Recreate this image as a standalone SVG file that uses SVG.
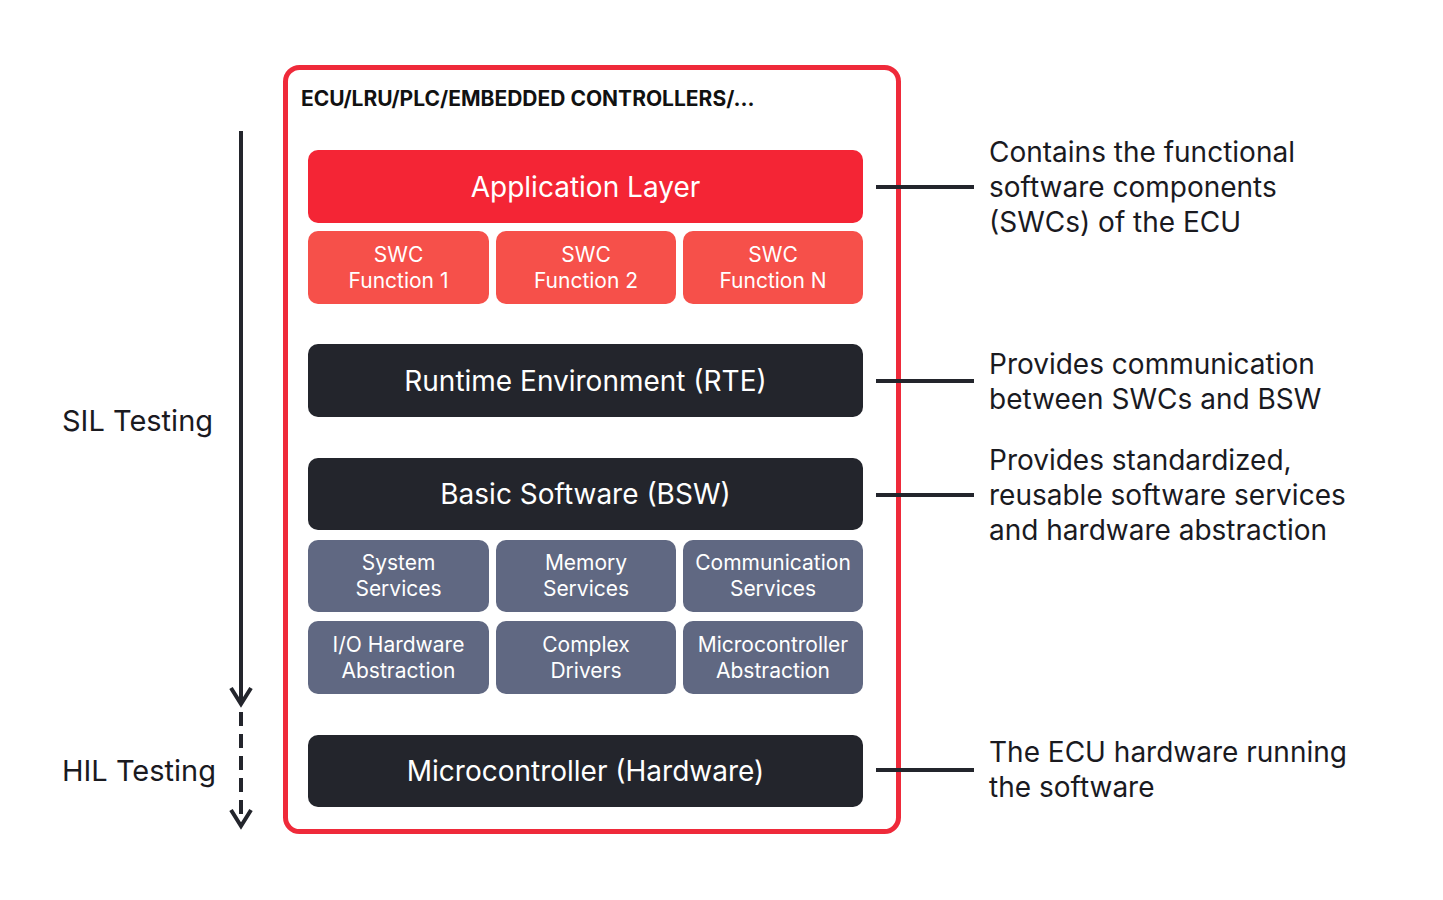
<svg xmlns="http://www.w3.org/2000/svg" width="1443" height="900" viewBox="0 0 1443 900">
<style>
text{font-family:Inter,"Noto Sans",sans-serif;}
.w{fill:#fff;text-anchor:middle;}
.big{font-size:28px;}
.sm{font-size:21px;}
.note{font-size:28px;fill:#1a1a1f;}
.side{font-size:29px;fill:#1a1a1f;}
.dark{fill:#23252c;}
.gray{fill:#606882;}
.swc{fill:#f6504a;}
.line{stroke:#23252c;stroke-width:4;fill:none;}
</style>
<rect width="1443" height="900" fill="#fff"/>
<rect x="285.5" y="67.5" width="613" height="764" rx="14" fill="#fff" stroke="#ef2a3a" stroke-width="5"/>
<text x="301" y="106" font-size="21" font-weight="bold" fill="#111">ECU/LRU/PLC/EMBEDDED CONTROLLERS/...</text>
<g id="app"><rect x="308" y="150" width="555" height="73" rx="10" fill="#f42535"/><text class="w big" x="585.5" y="197">Application Layer</text></g>
<g id="swc1"><rect class="swc" x="308" y="231" width="181" height="73" rx="10"/><text class="w sm" x="398.5" y="262">SWC</text><text class="w sm" x="398.5" y="288">Function 1</text></g>
<g id="swc2"><rect class="swc" x="496" y="231" width="180" height="73" rx="10"/><text class="w sm" x="586" y="262">SWC</text><text class="w sm" x="586" y="288">Function 2</text></g>
<g id="swcn"><rect class="swc" x="683" y="231" width="180" height="73" rx="10"/><text class="w sm" x="773" y="262">SWC</text><text class="w sm" x="773" y="288">Function N</text></g>
<g id="rte"><rect class="dark" x="308" y="344" width="555" height="73" rx="10"/><text class="w big" x="585.5" y="391">Runtime Environment (RTE)</text></g>
<g id="bsw"><rect class="dark" x="308" y="458" width="555" height="72" rx="10"/><text class="w big" x="585.5" y="504">Basic Software (BSW)</text></g>
<g id="sys"><rect class="gray" x="308" y="540" width="181" height="72" rx="10"/><text class="w sm" x="398.5" y="570">System</text><text class="w sm" x="398.5" y="596">Services</text></g>
<g id="mem"><rect class="gray" x="496" y="540" width="180" height="72" rx="10"/><text class="w sm" x="586" y="570">Memory</text><text class="w sm" x="586" y="596">Services</text></g>
<g id="com"><rect class="gray" x="683" y="540" width="180" height="72" rx="10"/><text class="w sm" x="773" y="570">Communication</text><text class="w sm" x="773" y="596">Services</text></g>
<g id="io"><rect class="gray" x="308" y="621" width="181" height="73" rx="10"/><text class="w sm" x="398.5" y="652">I/O Hardware</text><text class="w sm" x="398.5" y="678">Abstraction</text></g>
<g id="cdd"><rect class="gray" x="496" y="621" width="180" height="73" rx="10"/><text class="w sm" x="586" y="652">Complex</text><text class="w sm" x="586" y="678">Drivers</text></g>
<g id="mcal"><rect class="gray" x="683" y="621" width="180" height="73" rx="10"/><text class="w sm" x="773" y="652">Microcontroller</text><text class="w sm" x="773" y="678">Abstraction</text></g>
<g id="hw"><rect class="dark" x="308" y="735" width="555" height="72" rx="10"/><text class="w big" x="585.5" y="781">Microcontroller (Hardware)</text></g>
<g id="connectors">
<line class="line" x1="876" y1="187" x2="974" y2="187"/>
<line class="line" x1="876" y1="381" x2="974" y2="381"/>
<line class="line" x1="876" y1="495" x2="974" y2="495"/>
<line class="line" x1="876" y1="770" x2="974" y2="770"/>
<line class="line" x1="241" y1="131" x2="241" y2="704"/>
<polyline class="line" points="231,688 241,704 251,688"/>
<line class="line" x1="241" y1="712" x2="241" y2="826" stroke-dasharray="14,8"/>
<polyline class="line" points="231,810 241,826 251,810"/>
</g>
<text class="side" x="62" y="431">SIL Testing</text>
<text class="side" x="62" y="781">HIL Testing</text>
<text class="note" x="989" y="162">Contains the functional</text>
<text class="note" x="989" y="197">software components</text>
<text class="note" x="989" y="232">(SWCs) of the ECU</text>
<text class="note" x="989" y="374">Provides communication</text>
<text class="note" x="989" y="409">between SWCs and BSW</text>
<text class="note" x="989" y="470">Provides standardized,</text>
<text class="note" x="989" y="505">reusable software services</text>
<text class="note" x="989" y="540">and hardware abstraction</text>
<text class="note" x="989" y="762">The ECU hardware running</text>
<text class="note" x="989" y="797">the software</text>
</svg>
